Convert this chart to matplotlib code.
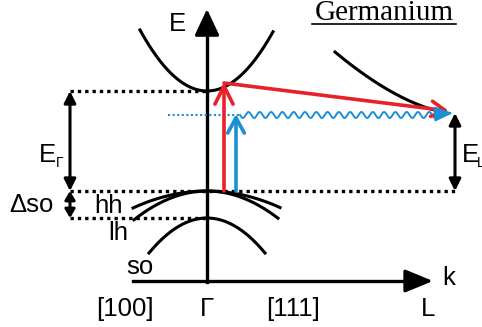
import numpy as np
import matplotlib
matplotlib.use('Agg')
import matplotlib.pyplot as plt

# band edges (image units, y grows downward)
gamma_x = 207
L_x = 452
cb_gamma_min = 91
cb_L_min = 113
vb_top = 191
so_top = 218
# band curvatures
curv_cb = 0.0136
curv_L = 0.0046
curv_hh = 0.0031
curv_lh = 0.0054
curv_so = 0.0104

band_labels = ['hh', 'lh', 'so']
k_labels = ['[100]', 'Γ', '[111]', 'L']

red = '#e8202a'
blue = '#1a8fd6'

fig = plt.figure(figsize=(4.82, 3.27), dpi=100)
ax = fig.add_axes([0, 0, 1, 1])
ax.set_xlim(0, 482)
ax.set_ylim(327, 0)
ax.axis('off')
plt.rcParams['font.family'] = ['Liberation Sans', 'DejaVu Sans']
fs = 18.5

# axes
ax.plot([gamma_x, gamma_x], [282, 30], color='k', lw=2.4)
ax.annotate('', xy=(gamma_x, 9), xytext=(gamma_x, 34),
            arrowprops=dict(arrowstyle='-|>,head_length=1.6,head_width=0.75', color='k', lw=2.4,
                            shrinkA=0, shrinkB=0))
ax.plot([133, 412], [281, 281], color='k', lw=2.4)
ax.annotate('', xy=(433, 281), xytext=(405, 281),
            arrowprops=dict(arrowstyle='-|>,head_length=1.7,head_width=0.7', color='k', lw=2.4,
                            shrinkA=0, shrinkB=0))
ax.text(177, 24, 'E', fontsize=fs, ha='center', va='center')
ax.text(449, 278, 'k', fontsize=fs, ha='center', va='center')
for lab, x in zip(k_labels, [125, 207, 293, 428]):
    ax.text(x, 309, lab, fontsize=fs, ha='center', va='center')

# conduction bands
x = np.linspace(140, 273, 200)
ax.plot(x, cb_gamma_min - curv_cb * (x - gamma_x) ** 2, color='k', lw=2.2)
x = np.linspace(335, 445, 200)
ax.plot(x, cb_L_min - 61 * ((L_x - x) / 117) ** 1.6, color='k', lw=2.2)

# valence bands
x = np.linspace(133, 280, 200)
ax.plot(x, vb_top + curv_hh * (x - gamma_x) ** 2, color='k', lw=2.2)
x = np.linspace(134, 278, 200)
ax.plot(x, vb_top + curv_lh * (x - gamma_x) ** 2, color='k', lw=2.2)
x = np.linspace(149, 265, 200)
ax.plot(x, so_top + curv_so * (x - gamma_x) ** 2, color='k', lw=2.2)

# dotted reference levels
dot = dict(color='k', lw=2.4, linestyle=(0, (1, 1.2)))
ax.plot([70, gamma_x], [cb_gamma_min, cb_gamma_min], **dot)
ax.plot([70, 455], [vb_top, vb_top], **dot)
ax.plot([70, gamma_x], [so_top, so_top], **dot)
ax.plot([168, 240], [115, 115], color=blue, lw=1.5, linestyle=(0, (1, 1.2)))

# energy gaps
dbl = dict(arrowstyle='<|-|>,head_length=0.7,head_width=0.35', color='k', lw=2.2,
           shrinkA=0, shrinkB=0)
ax.annotate('', xy=(70, cb_gamma_min), xytext=(70, vb_top), arrowprops=dbl)
ax.annotate('', xy=(70, vb_top), xytext=(70, so_top),
            arrowprops=dict(dbl, arrowstyle='<|-|>,head_length=0.5,head_width=0.3'))
ax.annotate('', xy=(455, cb_L_min), xytext=(455, vb_top), arrowprops=dbl)
ax.text(47, 155, 'E', fontsize=fs, ha='center', va='center')
ax.text(60, 163, 'Γ', fontsize=10, ha='center', va='center')
ax.text(462, 155, 'E', fontsize=fs, ha='left', va='center')
ax.text(477, 163, 'L', fontsize=10, ha='left', va='center')
ax.text(31, 205, 'Δso', fontsize=fs, ha='center', va='center')
for lab, (tx, ty) in zip(band_labels, [(109, 206), (118, 233), (140, 267)]):
    ax.text(tx, ty, lab, fontsize=fs, ha='center', va='center')

# red transition: direct then scattering to L
ax.annotate('', xy=(224, 82), xytext=(224, vb_top),
            arrowprops=dict(arrowstyle='->,head_length=1.3,head_width=0.65', color=red, lw=2.6,
                            shrinkA=0, shrinkB=0))
ax.annotate('', xy=(449, 111), xytext=(224, 83),
            arrowprops=dict(arrowstyle='->,head_length=1.0,head_width=0.55', color=red, lw=2.6,
                            shrinkA=0, shrinkB=0))

# blue transition: photon absorption then wavy phonon path
ax.annotate('', xy=(236, 114), xytext=(236, vb_top),
            arrowprops=dict(arrowstyle='->,head_length=1.1,head_width=0.6', color=blue, lw=2.6,
                            shrinkA=0, shrinkB=0))
xw = np.linspace(240, 437, 800)
ax.plot(xw, 115 + 3 * np.sin(2 * np.pi * (xw - 240) / 11.3), color=blue, lw=1.4)
ax.annotate('', xy=(453, 113), xytext=(436, 114),
            arrowprops=dict(arrowstyle='-|>,head_length=1.1,head_width=0.45', color=blue, lw=1.5,
                            shrinkA=0, shrinkB=0))

# title
ax.text(384, 20, 'Germanium', fontsize=21, family='Liberation Serif', ha='center', va='baseline')
ax.plot([312, 456], [23.5, 23.5], color='k', lw=1.2)

fig.savefig('out.png', dpi=100)
